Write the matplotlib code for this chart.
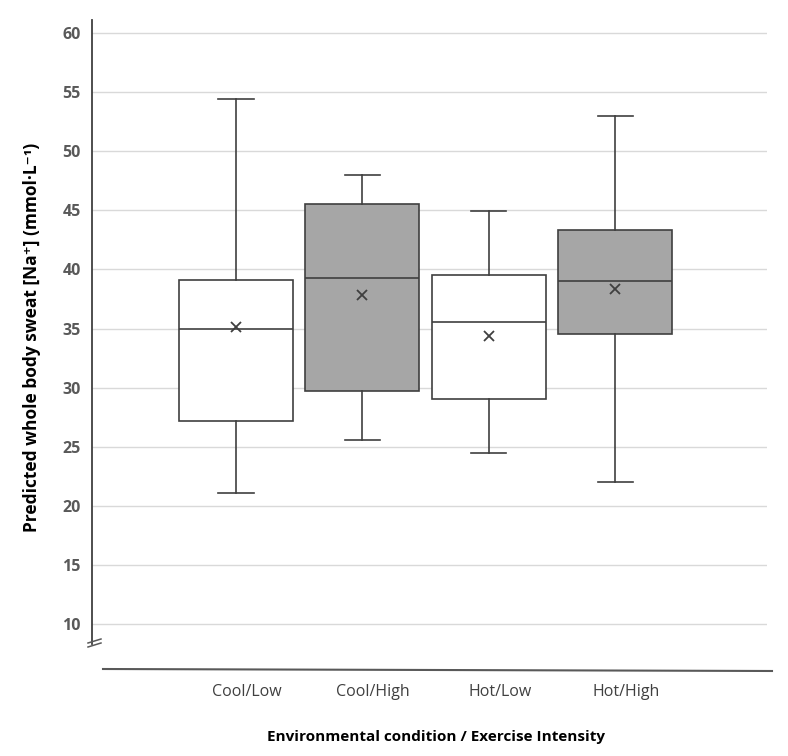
import numpy as np
import matplotlib
matplotlib.use("Agg")
import matplotlib.pyplot as plt
from matplotlib.lines import Line2D
from matplotlib.transforms import ScaledTranslation

plt.rcParams["font.family"] = ["Open Sans", "DejaVu Sans"]

# values
categories = ["Cool/Low", "Cool/High", "Hot/Low", "Hot/High"]
whisker_low = [21.05, 25.6, 24.5, 22.0]
q1 = [27.2, 29.75, 29.0, 34.5]
median = [35.0, 39.3, 35.55, 39.05]
q3 = [39.1, 45.5, 39.5, 43.3]
whisker_high = [54.4, 47.95, 44.95, 52.95]
mean = [35.15, 37.8, 34.4, 38.35]
box_colors = ["white", "#a6a6a6", "white", "#a6a6a6"]
y_ticks = [10, 15, 20, 25, 30, 35, 40, 45, 50, 55, 60]

stats = []
for i, name in enumerate(categories):
    stats.append({"label": name, "whislo": whisker_low[i], "q1": q1[i],
                  "med": median[i], "q3": q3[i], "whishi": whisker_high[i],
                  "mean": mean[i], "fliers": []})

fig = plt.figure(figsize=(7.88, 7.56), dpi=100)
ax = fig.add_axes([92 / 788, 1 - 644 / 756, (767 - 92) / 788, (644 - 20) / 756])

edge = "#3f3f3f"
positions = np.arange(len(categories))
bp = ax.bxp(stats, positions=positions, widths=0.9, patch_artist=True,
            showmeans=True, showfliers=False,
            boxprops=dict(edgecolor=edge, linewidth=1.2),
            whiskerprops=dict(color=edge, linewidth=1.2),
            capprops=dict(color=edge, linewidth=1.2),
            medianprops=dict(color=edge, linewidth=1.2),
            meanprops=dict(marker="x", markeredgecolor=edge, markersize=7,
                           markeredgewidth=1.3),
            capwidths=0.28, zorder=3)
for patch, c in zip(bp["boxes"], box_colors):
    patch.set_facecolor(c)

ax.set_xlim(-1.137, 4.2)
ax.set_ylim(8.31, 61.1)
ax.set_yticks(y_ticks)
ax.set_yticklabels([str(t) for t in y_ticks], fontsize=11.5, fontweight="bold",
                   color="#595959")
ax.yaxis.grid(True, color="#d9d9d9", linewidth=1.0, zorder=0)
ax.set_axisbelow(True)
ax.tick_params(axis="y", length=0, pad=8)

ax.set_xticks(positions)
ax.set_xticklabels(categories, fontsize=11.5, color="#404040")
ax.tick_params(axis="x", length=0, pad=29)
shift = ScaledTranslation(11 / 100, 0, fig.dpi_scale_trans)
for lbl in ax.get_xticklabels():
    lbl.set_transform(lbl.get_transform() + shift)

for side in ["top", "right", "bottom"]:
    ax.spines[side].set_visible(False)
ax.spines["left"].set_color("#404040")
ax.spines["left"].set_linewidth(1.3)

# axis break marks and the detached baseline
for dy in [0, 4]:
    fig.add_artist(Line2D([88 / 788, 101 / 788],
                          [1 - (647 - dy) / 756, 1 - (643 - dy) / 756],
                          color="#595959", linewidth=1.1))
fig.add_artist(Line2D([103 / 788, 772 / 788], [1 - 669 / 756, 1 - 671 / 756],
                      color="#595959", linewidth=1.5))

fig.text(32 / 788, 1 - 337 / 756,
         "Predicted whole body sweat [Na\u207a] (mmol\u00b7L\u207b\u00b9)",
         rotation=90, ha="center", va="center", fontsize=12.5,
         fontweight="bold", color="black")
fig.text(436 / 788, 1 - 737 / 756, "Environmental condition / Exercise Intensity",
         ha="center", va="center", fontsize=11, fontweight="bold", color="black")

fig.savefig("out.png", dpi=100)
